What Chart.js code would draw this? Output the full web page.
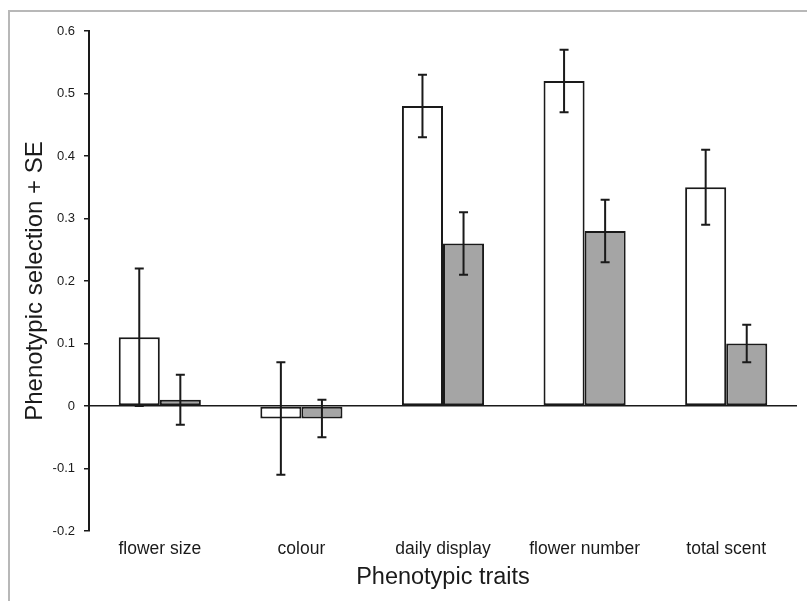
<!DOCTYPE html>
<html>
<head>
<meta charset="utf-8">
<script src="https://cdn.jsdelivr.net/npm/chart.js@4/dist/chart.umd.min.js"></script>
<style>
  html, body { margin: 0; padding: 0; background: #fff; }
  #wrap { position: relative; width: 807px; height: 601px; }
  #frame { position: absolute; left: 8px; top: 10px; right: 0; bottom: 0;
           border-top: 2px solid #b8b8b8; border-left: 2px solid #b8b8b8; }
  #chart { position: absolute; left: 0; top: 0; }
</style>
</head>
<body>
<div id="wrap">
  <div id="frame"></div>
  <canvas id="chart" width="807" height="601"></canvas>
</div>
<script>
// Datos
const traits = ['flower size', 'colour', 'daily display', 'flower number', 'total scent'];
const whiteValues = [0.11, -0.02, 0.48, 0.52, 0.35];
const whiteErrors = [0.11, 0.09, 0.05, 0.05, 0.06];
const greyValues = [0.01, -0.02, 0.26, 0.28, 0.10];
const greyErrors = [0.04, 0.03, 0.05, 0.05, 0.03];
const yMin = -0.2;
const yMax = 0.6;
const yStep = 0.1;

// Barras de error dibujadas con las escalas del gráfico
const errorBars = {
    id: 'errorBars',
    afterDatasetsDraw(chart) {
        const ctx = chart.ctx;
        const yScale = chart.scales.y;
        chart.data.datasets.forEach(function(ds, i) {
            const meta = chart.getDatasetMeta(i);
            meta.data.forEach(function(bar, j) {
                const v = ds.data[j];
                const e = ds.errors[j];
                const yTop = yScale.getPixelForValue(v + e);
                const yBot = yScale.getPixelForValue(v - e);
                ctx.save();
                ctx.strokeStyle = '#1a1a1a';
                ctx.lineWidth = 2;
                ctx.beginPath();
                ctx.moveTo(bar.x, yTop);
                ctx.lineTo(bar.x, yBot);
                ctx.moveTo(bar.x - 4.5, yTop);
                ctx.lineTo(bar.x + 4.5, yTop);
                ctx.moveTo(bar.x - 4.5, yBot);
                ctx.lineTo(bar.x + 4.5, yBot);
                ctx.stroke();
                ctx.restore();
            });
        });
    }
};

new Chart(document.getElementById('chart'), {
    type: 'bar',
    data: {
        labels: traits,
        datasets: [{
            label: 'white',
            data: whiteValues,
            errors: whiteErrors,
            backgroundColor: '#ffffff',
            borderColor: '#1a1a1a',
            borderWidth: 2,
            borderSkipped: false
        }, {
            label: 'grey',
            data: greyValues,
            errors: greyErrors,
            backgroundColor: '#a5a5a5',
            borderColor: '#1a1a1a',
            borderWidth: 2,
            borderSkipped: false
        }]
    },
    options: {
        responsive: false,
        animation: false,
        events: [],
        layout: { padding: { left: 0, top: 31, right: 10, bottom: 0 } },
        datasets: { bar: { categoryPercentage: 0.58, barPercentage: 1 } },
        scales: {
            x: {
                grid: { display: false, drawTicks: false },
                border: { display: false },
                ticks: {
                    color: '#1a1a1a',
                    padding: 8,
                    font: { family: 'Liberation Sans', size: 17.5 }
                },
                title: {
                    display: true,
                    text: 'Phenotypic traits',
                    color: '#1a1a1a',
                    font: { family: 'Liberation Sans', size: 23.5 },
                    padding: { top: 0, bottom: 9 }
                },
                afterFit(scale) { scale.height = 70; }
            },
            y: {
                min: yMin,
                max: yMax,
                grid: {
                    drawOnChartArea: true,
                    color: function(c) { return c.tick && Math.abs(c.tick.value) < 1e-9 ? '#1a1a1a' : 'rgba(0,0,0,0)'; },
                    lineWidth: 1.5,
                    tickColor: '#1a1a1a',
                    tickLength: 5
                },
                border: { display: true, color: '#1a1a1a', width: 2 },
                ticks: {
                    stepSize: yStep,
                    color: '#1a1a1a',
                    padding: 9,
                    font: { family: 'Liberation Sans', size: 13 },
                    callback: function(v) { return String(Math.round(v * 10) / 10); }
                },
                title: {
                    display: true,
                    text: 'Phenotypic selection + SE',
                    color: '#1a1a1a',
                    font: { family: 'Liberation Sans', size: 24 },
                    padding: { top: 21, bottom: 0 }
                },
                afterFit(scale) { scale.width = 89; }
            }
        },
        plugins: {
            legend: { display: false },
            tooltip: { enabled: false }
        }
    },
    plugins: [errorBars]
});
</script>
</body>
</html>
